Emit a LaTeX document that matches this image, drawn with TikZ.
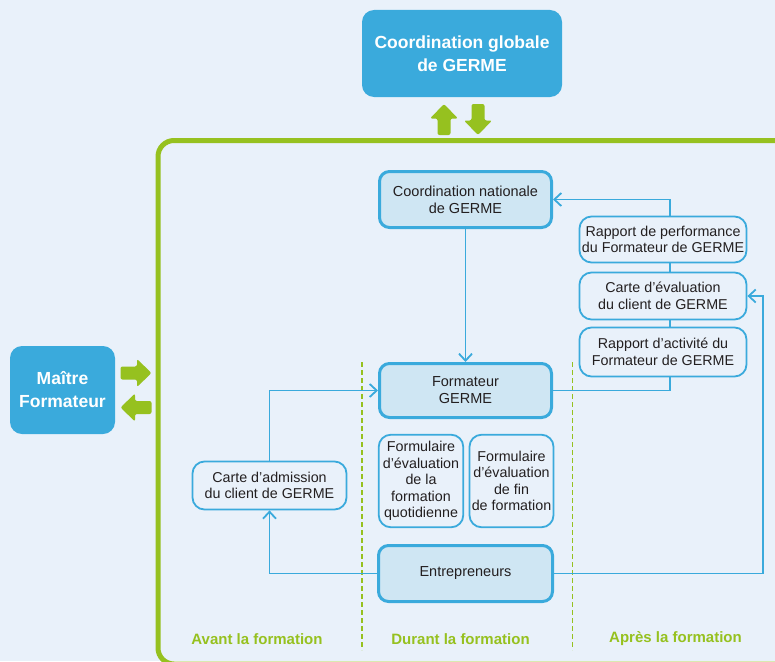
\documentclass[tikz,border=0pt]{standalone}
\usepackage{fontspec}
\setmainfont{Liberation Sans}
\usetikzlibrary{arrows.meta}
\definecolor{germeblue}{HTML}{3AAADC}
\definecolor{germelight}{HTML}{CFE6F3}
\definecolor{germebg}{HTML}{E9F1FA}
\definecolor{germegreen}{HTML}{96C11F}
\definecolor{germetext}{HTML}{231F20}
\tikzset{
  bigbox/.style={fill=germeblue, rounded corners=12pt, text=white, align=center, inner sep=0pt,
    font=\fontsize{17.5}{23}\selectfont\bfseries},
  mainbox/.style={draw=germeblue, line width=3pt, fill=germelight, rounded corners=10pt, text=germetext,
    align=center, inner sep=0pt, font=\fontsize{14.5}{17}\selectfont},
  docbox/.style={draw=germeblue, line width=1.8pt, fill=germebg, rounded corners=12pt, text=germetext,
    align=center, inner sep=0pt, font=\fontsize{14.3}{16.5}\selectfont},
  flow/.style={draw=germeblue, line width=1.8pt},
  flowarrow/.style={-{Straight Barb[length=7pt,width=13pt]}},
  garrow/.style={fill=germegreen, rounded corners=2pt},
  phase/.style={text=germegreen, font=\fontsize{15}{18}\selectfont\bfseries},
  phaseline/.style={draw=germegreen, line width=1.5pt, dash pattern=on 5pt off 3pt}
}
\begin{document}
\begin{tikzpicture}[x=1pt,y=-1pt]
  \useasboundingbox (0,0) rectangle (775,661);
  \clip (0,0) rectangle (775,661);
  \fill[germebg] (0,0) rectangle (775,661);
  \draw[germegreen, line width=5pt, rounded corners=16pt] (800,140.5) -- (158,140.5) -- (158,664) -- (800,664);

  \node[bigbox, minimum width=200pt, minimum height=87pt] (glob) at (462,53.5) {Coordination globale\\de GERME};
  \node[bigbox, minimum width=105pt, minimum height=88pt] (maitre) at (62.5,390) {Maître\\Formateur};

  \fill[garrow, shift={(444,119.5)}, rotate=90] (-15.5,-6.5) -- (1,-6.5) -- (1,-14) -- (15.5,0) -- (1,14) -- (1,6.5) -- (-15.5,6.5) -- cycle;
  \fill[garrow, shift={(478,119.5)}, rotate=-90] (-15.5,-6.5) -- (1,-6.5) -- (1,-14) -- (15.5,0) -- (1,14) -- (1,6.5) -- (-15.5,6.5) -- cycle;
  \fill[garrow, shift={(136,373)}] (-15.5,-6.5) -- (1,-6.5) -- (1,-14) -- (15.5,0) -- (1,14) -- (1,6.5) -- (-15.5,6.5) -- cycle;
  \fill[garrow, shift={(136,407.5)}, rotate=180] (-15.5,-6.5) -- (1,-6.5) -- (1,-14) -- (15.5,0) -- (1,14) -- (1,6.5) -- (-15.5,6.5) -- cycle;

  \draw[phaseline] (362,362) -- (362,650);
  \draw[phaseline] (572.5,362) -- (572.5,650);

  \node[mainbox, minimum width=172pt, minimum height=56pt] (natl) at (465.5,199.5) {Coordination nationale\\de GERME};
  \node[mainbox, minimum width=172pt, minimum height=54pt] (form) at (465.5,390.5) {Formateur\\GERME};
  \node[mainbox, minimum width=174pt, minimum height=56pt] (entr) at (465.5,573.5) {Entrepreneurs};
  \node[docbox, minimum width=84.5pt, minimum height=92.5pt] (fjour) at (421,481) {Formulaire\\d’évaluation\\de la\\formation\\quotidienne};
  \node[docbox, minimum width=84pt, minimum height=92.5pt] (ffin) at (511.5,481) {Formulaire\\d’évaluation\\de fin\\de formation};
  \node[docbox, minimum width=154pt, minimum height=48pt] (adm) at (269.5,485.5) {Carte d’admission\\du client de GERME};
  \node[docbox, minimum width=167pt, minimum height=46pt] (rperf) at (663,239.5) {Rapport de performance\\du Formateur de GERME};
  \node[docbox, minimum width=167pt, minimum height=47pt] (ceval) at (663,296) {Carte d’évaluation\\du client de GERME};
  \node[docbox, minimum width=167pt, minimum height=49pt] (ract) at (663,352) {Rapport d’activité du\\Formateur de GERME};

  \coordinate (colx) at (670,0);
  \coordinate (loopx) at (763,0);
  \draw[flow, flowarrow] (rperf.north -| colx) |- (natl.east);
  \draw[flow, flowarrow] (natl) -- (form);
  \draw[flow] (rperf.south -| colx) -- (ceval.north -| colx);
  \draw[flow] (ceval.south -| colx) -- (ract.north -| colx);
  \draw[flow] (form.east) -| (ract.south -| colx);
  \draw[flow, flowarrow] (entr.east) -| (ceval.east -| loopx) -- (ceval.east);
  \draw[flow, flowarrow] (adm.north) |- (form.west);
  \draw[flow, flowarrow] (entr.west) -| (adm.south);

  \node[phase] (avant) at (257,639) {Avant la formation};
  \node[phase] (durant) at (460.5,639) {Durant la formation};
  \node[phase] (apres) at (675.5,639) {Après la formation};
\end{tikzpicture}
\end{document}
